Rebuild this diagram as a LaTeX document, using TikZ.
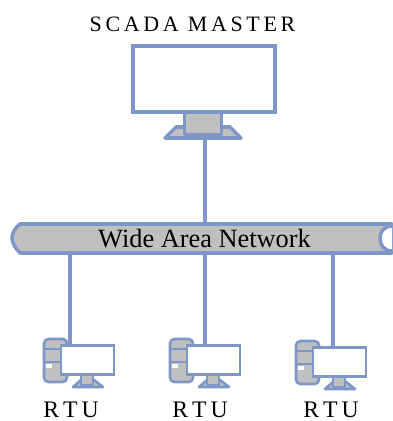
\documentclass[tikz,border=0pt]{standalone}
\usepackage{fontspec}
\setmainfont{Liberation Serif}
\usetikzlibrary{positioning}
\definecolor{linkblue}{HTML}{7F96C8}
\definecolor{bodygray}{HTML}{C0C0C0}
\tikzset{
	link/.style={draw=linkblue,line width=2pt},
	screen/.style={draw=linkblue,fill=white,line width=2pt,minimum width=#1,inner sep=0pt},
	part/.style={draw=linkblue,fill=bodygray,line width=2pt,line join=round},
	thin part/.style={draw=linkblue,fill=bodygray,line width=1.5pt,line join=round},
	label/.style={font=\fontsize{13.5}{16}\selectfont,inner sep=0pt}
}
\begin{document}
\begin{tikzpicture}[x=.02cm,y=-.02cm]
	\useasboundingbox (0,0) rectangle (392,421);
	
	\node[label,font=\fontsize{12.5}{15}\selectfont] (mastertext) at (192.5,24) {S\,C\,A\,D\,A\, M\,A\,S\,T\,E\,R};
	
	% master monitor
	\draw[part] (165,138) -- (176,127) -- (230,127) -- (241,138) -- cycle;
	\node[part,minimum width=.74cm,minimum height=.46cm,inner sep=0pt] (neck) at (203,123) {};
	\node[screen=2.84cm,minimum height=1.32cm] (master) at (204,79) {};
	\coordinate (masterbase) at (205,138);
	
	% network pipe
	\draw[part] (20,224) -- (392,224) -- (392,253) -- (20,253) .. controls (15,248) and (12,243) .. (12,238) .. controls (12,233) and (15,228) .. (20,224) -- cycle;
	\draw[link,fill=white] (392,226) .. controls (384,226) and (380,232) .. (380,238) .. controls (380,245) and (384,251) .. (392,251);
	\node[label,font=\fontsize{15}{18}\selectfont] (wan) at (204.5,239) {Wide Area Network};
	\coordinate (wantop) at (205,225);
	\draw[link] (masterbase) -- (wantop);
	
	% field stations
	\foreach \name/\x/\y/\drop in {rtua/0/0/70,rtub/126/0/79,rtuc/252/2/81}
	{
		\begin{scope}[shift={(\x,\y)}]
			\draw[thin part,rounded corners=2.5pt] (44,339) rectangle (67,382);
			\draw[thin part] (44,349) -- (67,349);
			\draw[thin part] (44,362) -- (67,362);
			\fill[white] (46,364) rectangle (52,368);
			\draw[thin part] (73,387) -- (81,380) -- (94,380) -- (103,387) -- cycle;
			\draw[thin part] (81,375) rectangle (93,385);
			\coordinate (\name up) at (\drop,253);
			\draw[link] (\name up) -- (\drop,345);
			\node[draw=linkblue,fill=white,line width=1.5pt,minimum width=1.06cm,minimum height=.58cm,inner sep=0pt] (\name) at (87.5,360) {};
		\end{scope}
	}
	
	\node[label] (rtualabel) at (71,410) {R\,T\,U};
	\node[label] (rtublabel) at (200,410) {R\,T\,U};
	\node[label] (rtuclabel) at (331,410) {R\,T\,U};
\end{tikzpicture}
\end{document}
